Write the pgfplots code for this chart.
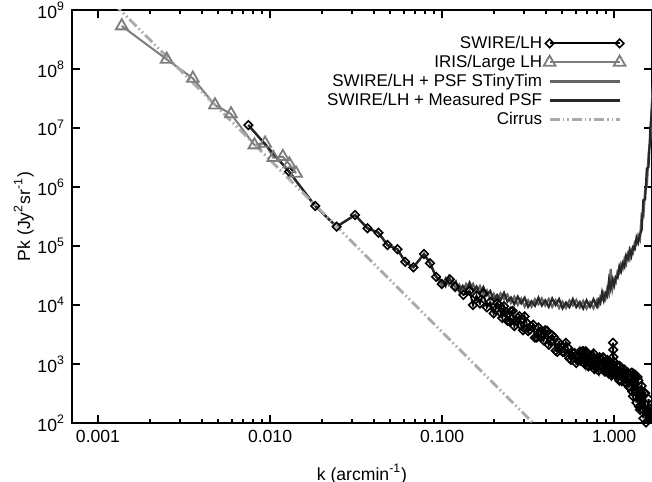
\documentclass[border=0pt]{standalone}
\usepackage{pgfplots}
\pgfplotsset{compat=1.18}
\usepackage{fontspec}
\setmainfont{Liberation Sans}

\definecolor{irisgray}{RGB}{125,125,125}
\definecolor{tinygray}{RGB}{100,100,100}
\definecolor{measgray}{RGB}{40,40,40}
\definecolor{cirrusgray}{RGB}{170,170,170}

\begin{document}
\begin{tikzpicture}
\begin{axis}[
    name=ax,
    xmode=log, ymode=log,
    width=290pt, height=206.5pt, scale only axis,
    xmin=7.06e-4, xmax=1.66, ymin=1e2, ymax=1e9,
    xtick={0.001,0.01,0.1,1},
    xticklabels={0.001,0.010,0.100,1.000},
    ytick={1e2,1e3,1e4,1e5,1e6,1e7,1e8,1e9},
    yticklabels={10\textsuperscript{2},10\textsuperscript{3},10\textsuperscript{4},10\textsuperscript{5},
                 10\textsuperscript{6},10\textsuperscript{7},10\textsuperscript{8},10\textsuperscript{9}},
    yminorticks=false,
    tick align=inside,
    major tick length=4pt, minor tick length=2pt,
    every tick/.style={black, line width=1pt},
    axis line style={line width=1.2pt},
    tick label style={font=\fontsize{8.8}{10}\selectfont},
    label style={font=\fontsize{8.8}{10}\selectfont},
    xlabel={k (arcmin\textsuperscript{-1})},
    ylabel={Pk (Jy\textsuperscript{2}sr\textsuperscript{-1})},
    xlabel shift=4pt, ylabel shift=-5pt,
    legend style={draw=none, fill=none, inner sep=0pt,
        at={(0.955,0.943)}, anchor=north east,
        font=\fontsize{8.5}{10}\selectfont,
        nodes={text height=6.3pt, text depth=1.6pt, inner sep=0.8pt}},
    legend plot pos=right,
    legend cell align=right,
    legend image code/.code={\draw[#1] plot coordinates {(0pt,0pt) (35pt,0pt)};},
]

% SWIRE/LH
\addplot [black, line width=1pt, mark=square, mark size=1.5pt,
          mark options={solid, rotate=45, line width=0.8pt}] coordinates {
 (0.00748,1.12e7) (0.0129,1.82e6) (0.0183,4.76e5) (0.0244,2.13e5) (0.0312,3.35e5)
 (0.0368,2.0e5) (0.0427,1.68e5) (0.0481,1.04e5) (0.0550,8.8e4) (0.0610,5.4e4)
 (0.0681,4.36e4) (0.0785,7.3e4) (0.0851,5.1e4) (0.0923,3.0e4) (0.0995,2.27e4)
 (0.111,2.72e4) (0.119,2.04e4) (0.133,1.48e4)
 (0.1445,1.74e4) (0.1514,1.00e4) (0.1585,1.43e4) (0.1660,1.06e4) (0.1738,1.57e4)
 (0.1820,9.1e3) (0.1905,1.12e4) (0.1995,7.2e3)
 (0.2042,8.28e3) (0.2089,1.07e4) (0.2138,9.98e3) (0.2188,7.4e3) (0.2239,6.01e3)
 (0.2291,9.5e3) (0.2344,7.59e3) (0.2399,5.4e3) (0.2455,5.37e3) (0.2512,7.8e3)
 (0.2570,7.92e3) (0.2630,4.4e3) (0.2692,5.37e3) (0.2754,6.1e3) (0.2818,6.47e3)
 (0.2884,4.43e3) (0.2951,3.73e3) (0.3020,6.4e3) (0.3090,5.05e3) (0.3162,3.6e3)
 (0.3236,3.82e3) (0.3311,4.3e3) (0.3388,4.63e3) (0.3467,2.8e3) (0.3548,2.81e3)
 (0.3631,4.16e3) (0.3715,3.55e3) (0.3802,2.9e3) (0.3890,2.52e3) (0.3981,3.74e3)
 (0.4074,3.66e3) (0.4169,2.11e3) (0.4266,2.43e3) (0.4365,3.06e3) (0.4467,2.86e3)
 (0.4571,1.69e3) (0.4677,1.61e3) (0.4786,2.28e3) (0.4898,2.12e3) (0.5012,1.61e3)
 (0.5129,1.58e3) (0.5248,2.28e3) (0.5370,1.90e3) (0.5495,1.25e3) (0.5623,1.17e3)
 (0.5754,1.53e3) (0.5888,1.53e3) (0.6026,1.04e3) (0.6166,1.14e3) (0.6310,1.61e3)
 (0.6383,1.13e3) (0.6457,1.19e3) (0.6531,1.63e3) (0.6607,1.65e3) (0.6683,1.18e3)
 (0.6761,995) (0.6839,1.64e3) (0.6918,1.55e3) (0.6998,942) (0.7079,910)
 (0.7161,1.33e3) (0.7244,1.32e3) (0.7328,944) (0.7413,1.0e3) (0.7499,1.36e3)
 (0.7586,1.51e3) (0.7674,820) (0.7762,890) (0.7852,1.13e3) (0.7943,1.12e3)
 (0.8035,899) (0.8128,773) (0.8222,1.30e3) (0.8318,1.22e3) (0.8414,940)
 (0.8511,908) (0.8610,1.30e3) (0.8710,1.25e3) (0.8810,745) (0.8913,754)
 (0.9016,1.05e3) (0.9120,1.17e3) (0.9226,745) (0.9333,687) (0.9441,1.08e3)
 (0.9550,986) (0.9661,638) (0.9772,733) (0.986,2.29e3) (0.988,1.74e3)
 (0.9886,863) (0.991,1.32e3) (1.0,1.09e3) (1.0116,671) (1.023,627)
 (1.0351,951) (1.047,773) (1.0593,675) (1.072,524) (1.0839,912)
 (1.096,813) (1.1092,514) (1.122,590) (1.1350,711) (1.148,800)
 (1.1614,493) (1.175,472) (1.1885,698) (1.202,716) (1.2162,412)
 (1.230,413) (1.2445,577) (1.259,706) (1.27,708) (1.2735,344)
 (1.288,284) (1.3032,679) (1.318,615) (1.3335,337) (1.349,221)
 (1.3646,605) (1.380,525) (1.3964,189) (1.413,168) (1.4289,357)
 (1.445,427) (1.4622,169) (1.479,120) (1.4962,320) (1.514,321)
 (1.5311,102) (1.549,85.5) (1.5668,172) (1.585,255) (1.6032,95.5)
 (1.622,60.5) (1.6406,176) (1.660,181) (1.698,79)
};
\addlegendentry{SWIRE/LH}

% IRIS/Large LH
\addplot [irisgray, line width=1pt, mark=triangle, mark size=3.4pt,
          mark options={solid, line width=0.9pt}] coordinates {
 (0.001374,5.36e8) (0.002506,1.46e8) (0.003556,6.95e7) (0.004786,2.45e7)
 (0.005929,1.73e7) (0.008110,5.15e6) (0.009354,5.51e6) (0.01045,3.14e6)
 (0.01186,3.27e6) (0.01294,2.45e6) (0.01416,1.71e6)
};
\addlegendentry{IRIS/Large LH}

% SWIRE/LH + PSF STinyTim
\addplot [tinygray, line width=1.1pt] coordinates {
 (0.00748,1.12e7) (0.0129,1.82e6) (0.0183,4.76e5) (0.0244,2.13e5) (0.0312,3.35e5)
 (0.0368,2.0e5) (0.0427,1.68e5) (0.0481,1.04e5) (0.0550,8.8e4) (0.0610,5.4e4)
 (0.0681,4.36e4) (0.0785,7.3e4) (0.0851,5.1e4) (0.0923,3.0e4)
 (0.1,2.09e4) (0.1047,2.82e4) (0.1096,2.19e4) (0.1148,2.60e4) (0.1202,1.78e4)
 (0.1259,2.21e4) (0.1318,1.71e4) (0.1380,2.28e4) (0.1445,1.87e4) (0.1514,2.28e4)
 (0.1585,1.67e4) (0.1660,2.09e4) (0.1738,1.46e4) (0.1820,1.76e4) (0.1905,1.23e4)
 (0.1995,1.55e4) (0.2089,1.20e4) (0.2188,1.57e4) (0.2291,1.25e4) (0.2399,1.50e4)
 (0.2512,1.09e4) (0.2630,1.38e4) (0.2754,1.01e4) (0.2884,1.28e4) (0.3020,9.4e3)
 (0.3162,1.20e4) (0.3311,9.4e3) (0.3467,1.25e4) (0.3631,1.03e4) (0.3802,1.29e4)
 (0.3981,9.8e3) (0.4169,1.26e4) (0.4365,9.3e3) (0.4571,1.20e4) (0.4786,8.9e3)
 (0.5012,1.14e4) (0.5248,8.9e3) (0.5495,1.19e4) (0.5754,9.8e3) (0.6026,1.22e4)
 (0.6310,9.1e3) (0.6607,1.17e4) (0.6918,8.7e3) (0.7244,1.12e4) (0.7586,8.8e3)
 (0.7943,1.21e4) (0.8128,9.95e3) (0.8318,1.39e4) (0.8511,1.26e4) (0.8710,1.58e4)
 (0.8913,1.29e4) (0.9120,1.91e4) (0.9333,1.58e4) (0.9550,4.07e4) (0.9772,1.91e4)
 (1.0,2.75e4) (1.023,2.45e4) (1.047,3.72e4) (1.072,3.47e4) (1.096,4.90e4)
 (1.122,4.17e4) (1.148,6.03e4) (1.175,5.01e4) (1.202,7.24e4) (1.230,6.03e4)
 (1.259,8.71e4) (1.288,7.76e4) (1.318,1.15e5) (1.349,1.07e5) (1.380,1.51e5)
 (1.413,1.29e5) (1.445,3.39e5) (1.479,3.16e5) (1.514,8.91e5) (1.549,1.02e6)
 (1.585,3.63e6) (1.622,6.17e6) (1.660,3.02e7) (1.698,7.94e7)
};
\addlegendentry{SWIRE/LH + PSF STinyTim}

% SWIRE/LH + Measured PSF
\addplot [measgray, line width=1.1pt] coordinates {
 (0.00748,1.12e7) (0.0129,1.82e6) (0.0183,4.76e5) (0.0244,2.13e5) (0.0312,3.35e5)
 (0.0368,2.0e5) (0.0427,1.68e5) (0.0481,1.04e5) (0.0550,8.8e4) (0.0610,5.4e4)
 (0.0681,4.36e4) (0.0785,7.3e4) (0.0851,5.1e4) (0.0923,3.0e4)
 (0.1,2.57e4) (0.1047,2.09e4) (0.1096,3.02e4) (0.1148,2.16e4) (0.1202,2.51e4)
 (0.1259,1.71e4) (0.1318,2.11e4) (0.1380,1.77e4) (0.1445,2.40e4) (0.1514,1.73e4)
 (0.1585,2.06e4) (0.1660,1.55e4) (0.1738,2.01e4) (0.1820,1.47e4) (0.1905,1.73e4)
 (0.1995,1.20e4) (0.2089,1.48e4) (0.2188,1.22e4) (0.2291,1.61e4) (0.2399,1.14e4)
 (0.2512,1.34e4) (0.2630,1.03e4) (0.2754,1.39e4) (0.2884,1.07e4) (0.3020,1.33e4)
 (0.3162,9.3e3) (0.3311,1.16e4) (0.3467,9.7e3) (0.3631,1.33e4) (0.3802,9.8e3)
 (0.3981,1.20e4) (0.4169,9.3e3) (0.4365,1.29e4) (0.4571,1.00e4) (0.4786,1.26e4)
 (0.5012,8.8e3) (0.5248,1.10e4) (0.5495,9.2e3) (0.5754,1.26e4) (0.6026,9.2e3)
 (0.6310,1.12e4) (0.6607,8.7e3) (0.6918,1.20e4) (0.7244,9.3e3) (0.7586,1.25e4)
 (0.7943,9.4e3) (0.8128,1.22e4) (0.8318,1.08e4) (0.8511,1.62e4) (0.8710,1.20e4)
 (0.8913,1.58e4) (0.9120,1.41e4) (0.9333,2.63e4) (0.9550,1.91e4) (0.9772,2.69e4)
 (1.0,2.14e4) (1.023,3.02e4) (1.047,2.88e4) (1.072,4.47e4) (1.096,3.72e4)
 (1.122,5.13e4) (1.148,4.47e4) (1.175,6.92e4) (1.202,6.03e4) (1.230,8.51e4)
 (1.259,6.76e4) (1.288,9.55e4) (1.318,8.91e4) (1.349,1.38e5) (1.380,1.15e5)
 (1.413,1.58e5) (1.445,1.86e5) (1.479,6.03e5) (1.514,6.17e5) (1.549,2.04e6)
 (1.585,2.19e6) (1.622,9.33e6) (1.660,2.19e7) (1.698,6.31e7)
};
\addlegendentry{SWIRE/LH + Measured PSF}

% Cirrus
\addplot [cirrusgray, line width=1.4pt,
          dash pattern=on 5pt off 1.5pt on 0.8pt off 1.5pt on 0.8pt off 1.5pt] coordinates {
 (0.001,2.36e9) (0.5,32)
};
\addlegendentry{Cirrus}

\end{axis}
\pgfresetboundingbox
\path[use as bounding box] ([xshift=-36pt,yshift=-29pt]ax.south west) rectangle ([yshift=5pt]ax.north east);
\end{tikzpicture}
\end{document}
